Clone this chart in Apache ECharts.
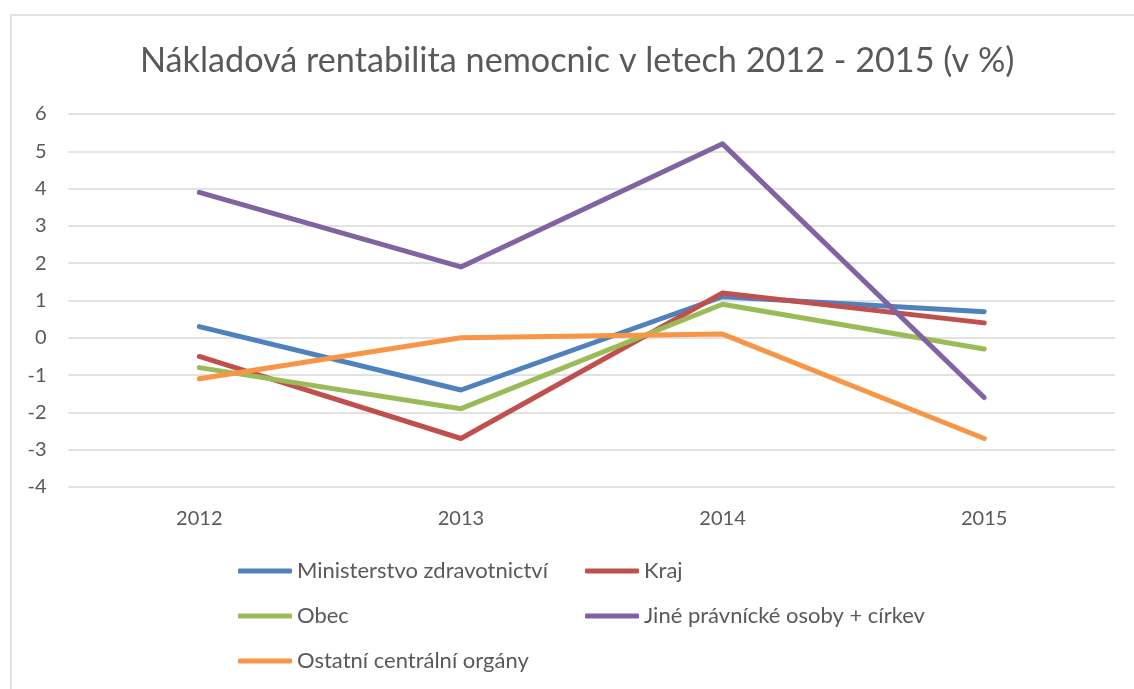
<!DOCTYPE html>
<html>
<head>
    <meta charset="utf-8">
    <title>Nákladová rentabilita</title>
    <script src="https://cdn.jsdelivr.net/npm/echarts@6/dist/echarts.min.js"></script>
    <style>
        html, body { margin: 0; padding: 0; background: #fff; }
        #chart { width: 1134px; height: 689px; }
    </style>
</head>
<body>
<div id="chart"></div>
<script>
    var years = ['2012', '2013', '2014', '2015'];
    var ministerstvo = [0.3, -1.4, 1.1, 0.7];
    var kraj = [-0.5, -2.7, 1.2, 0.4];
    var obec = [-0.8, -1.9, 0.9, -0.3];
    var jine = [3.9, 1.9, 5.2, -1.6];
    var ostatni = [-1.1, 0.0, 0.1, -2.7];

    var names = ['Ministerstvo zdravotnictví', 'Kraj', 'Obec', 'Jiné právnícké osoby + církev', 'Ostatní centrální orgány'];
    var colors = ['#4F81BD', '#C0504D', '#9BBB59', '#8064A2', '#F79646'];
    var values = [ministerstvo, kraj, obec, jine, ostatni];

    var font = 'Lato, "Open Sans", sans-serif';
    var txt = '#595959';

    var series = names.map(function (n, i) {
        return {
            name: n,
            type: 'line',
            data: values[i],
            showSymbol: false,
            symbol: 'none',
            lineStyle: { width: 5, color: colors[i], cap: 'round', join: 'round' },
            itemStyle: { color: colors[i] },
            animation: false
        };
    });

    var legendBase = {
        orient: 'vertical',
        top: 560,
        padding: 0,
        itemWidth: 54,
        itemHeight: 5,
        itemGap: 23,
        icon: 'roundRect',
        textStyle: { fontFamily: font, fontSize: 22, lineHeight: 22, color: txt }
    };

    var myChart = echarts.init(document.getElementById('chart'));
    myChart.setOption({
        backgroundColor: '#fff',
        color: colors,
        title: {
            text: 'Nákladová rentabilita nemocnic v letech 2012 - 2015 (v %)',
            left: 135,
            top: 39,
            textStyle: { fontFamily: font, fontSize: 34.2, fontWeight: 'normal', color: txt }
        },
        graphic: [{
            type: 'rect',
            shape: { x: 11, y: 15, width: 1140, height: 700 },
            style: { fill: 'none', stroke: '#d9d9d9', lineWidth: 1.5 },
            silent: true
        }],
        legend: [
            Object.assign({}, legendBase, { left: 238, data: [names[0], names[2], names[4]] }),
            Object.assign({}, legendBase, { left: 585, data: [names[1], names[3]] })
        ],
        grid: { left: 68.5, right: 19, top: 114, bottom: 202, containLabel: false },
        xAxis: {
            type: 'category',
            data: years,
            boundaryGap: true,
            axisLine: { show: false },
            axisTick: { show: false },
            axisLabel: { margin: 22, fontFamily: font, fontSize: 20, color: txt }
        },
        yAxis: {
            type: 'value',
            min: -4,
            max: 6,
            interval: 1,
            axisLine: { show: false },
            axisTick: { show: false },
            axisLabel: { margin: 22, fontFamily: font, fontSize: 20, color: txt },
            splitLine: { lineStyle: { color: '#d9d9d9', width: 1.5 } }
        },
        series: series
    });
</script>
</body>
</html>
